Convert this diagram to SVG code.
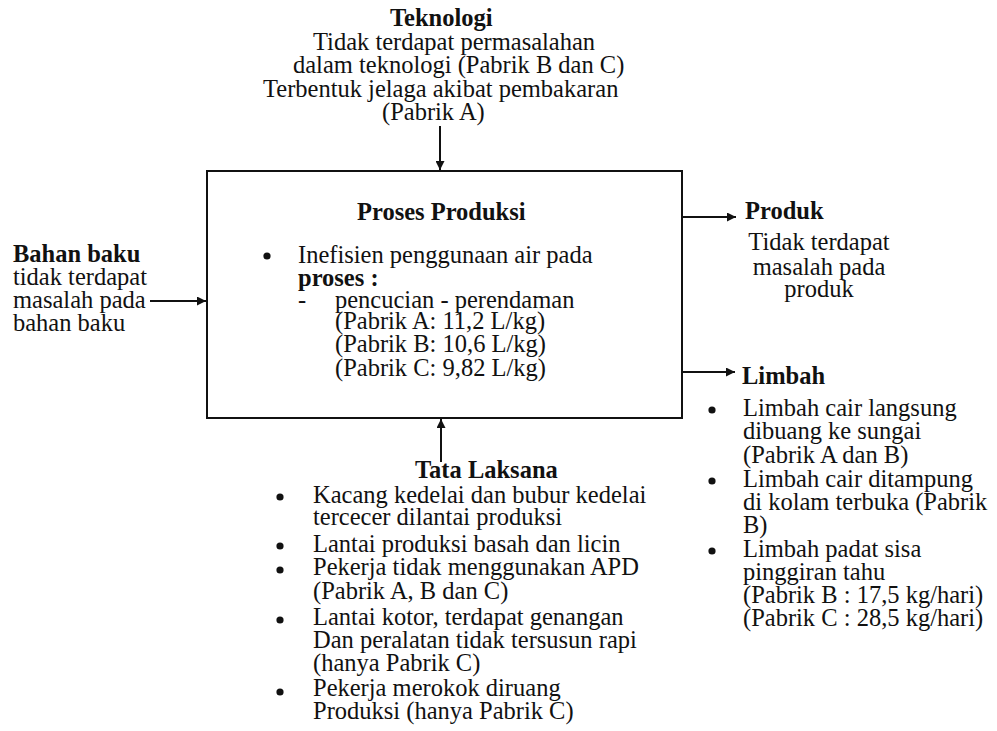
<svg xmlns="http://www.w3.org/2000/svg" width="997" height="731" viewBox="0 0 997 731" font-family="'Liberation Serif', 'Times New Roman', Times, serif">
<style>
text{font-family:'Liberation Serif','Times New Roman',Times,serif;font-size:24.5px;fill:#111}
.b{font-weight:bold}
.m{text-anchor:middle}
.ln{stroke:#111;stroke-width:2;fill:none}
.dot{fill:#111}
</style>
<defs>
<marker id="ah" viewBox="0 0 10 10" refX="10" refY="5" markerWidth="10" markerHeight="9" markerUnits="userSpaceOnUse" orient="auto">
<path d="M0,0 L10,5 L0,10 z" fill="#111"/>
</marker>
</defs>
<rect width="997" height="731" fill="#fff"/>
<g id="connectors">
<line class="ln" x1="440" y1="126" x2="440" y2="170" marker-end="url(#ah)"/>
<line class="ln" x1="441" y1="462" x2="441" y2="419" marker-end="url(#ah)"/>
<line class="ln" x1="150" y1="301" x2="206" y2="301" marker-end="url(#ah)"/>
<line class="ln" x1="682" y1="217" x2="736" y2="217" marker-end="url(#ah)"/>
<line class="ln" x1="682" y1="372" x2="735" y2="372" marker-end="url(#ah)"/>
</g>
<g id="teknologi">
<text class="b" x="390" y="26">Teknologi</text>
<text x="313" y="50">Tidak terdapat permasalahan</text>
<text x="293" y="73">dalam teknologi (Pabrik B dan C)</text>
<text x="263" y="97">Terbentuk jelaga akibat pembakaran</text>
<text x="382" y="120">(Pabrik A)</text>
</g>
<g id="proses-produksi">
<rect x="207" y="171" width="475" height="247" fill="none" stroke="#111" stroke-width="2"/>
<text class="b" x="357" y="220">Proses Produksi</text>
<circle class="dot" cx="267" cy="256" r="3.6"/>
<text x="298" y="263">Inefisien penggunaan air pada</text>
<text class="b" x="298" y="286">proses :</text>
<text x="298" y="308">-</text>
<text x="335" y="308">pencucian - perendaman</text>
<text x="335" y="329">(Pabrik A: 11,2 L/kg)</text>
<text x="335" y="352">(Pabrik B: 10,6 L/kg)</text>
<text x="335" y="376">(Pabrik C: 9,82 L/kg)</text>
</g>
<g id="bahan-baku">
<text class="b" x="13" y="262">Bahan baku</text>
<text x="13" y="285">tidak terdapat</text>
<text x="13" y="308">masalah pada</text>
<text x="13" y="331">bahan baku</text>
</g>
<g id="produk">
<text class="b" x="745" y="219">Produk</text>
<text class="m" x="819" y="250">Tidak terdapat</text>
<text class="m" x="819" y="275">masalah pada</text>
<text class="m" x="819" y="297">produk</text>
</g>
<g id="limbah">
<text class="b" x="742" y="384">Limbah</text>
<circle class="dot" cx="712" cy="410" r="3.6"/>
<text x="743" y="416">Limbah cair langsung</text>
<text x="743" y="439">dibuang ke sungai</text>
<text x="743" y="463">(Pabrik A dan B)</text>
<circle class="dot" cx="712" cy="481" r="3.6"/>
<text x="743" y="487">Limbah cair ditampung</text>
<text x="743" y="510">di kolam terbuka (Pabrik</text>
<text x="743" y="533">B)</text>
<circle class="dot" cx="712" cy="551" r="3.6"/>
<text x="743" y="557">Limbah padat sisa</text>
<text x="743" y="580">pinggiran tahu</text>
<text x="743" y="603">(Pabrik B : 17,5 kg/hari)</text>
<text x="743" y="626">(Pabrik C : 28,5 kg/hari)</text>
</g>
<g id="tata-laksana">
<text class="b" x="415" y="478">Tata Laksana</text>
<circle class="dot" cx="280" cy="497" r="3.6"/>
<text x="313" y="503">Kacang kedelai dan bubur kedelai</text>
<text x="313" y="525">tercecer dilantai produksi</text>
<circle class="dot" cx="280" cy="546" r="3.6"/>
<text x="313" y="552">Lantai produksi basah dan licin</text>
<circle class="dot" cx="280" cy="570" r="3.6"/>
<text x="313" y="575">Pekerja tidak menggunakan APD</text>
<text x="313" y="599">(Pabrik A, B dan C)</text>
<circle class="dot" cx="280" cy="620" r="3.6"/>
<text x="313" y="625">Lantai kotor, terdapat genangan</text>
<text x="313" y="648">Dan peralatan tidak tersusun rapi</text>
<text x="313" y="671">(hanya Pabrik C)</text>
<circle class="dot" cx="280" cy="692" r="3.6"/>
<text x="313" y="696">Pekerja merokok diruang</text>
<text x="313" y="719">Produksi (hanya Pabrik C)</text>
</g>
</svg>
